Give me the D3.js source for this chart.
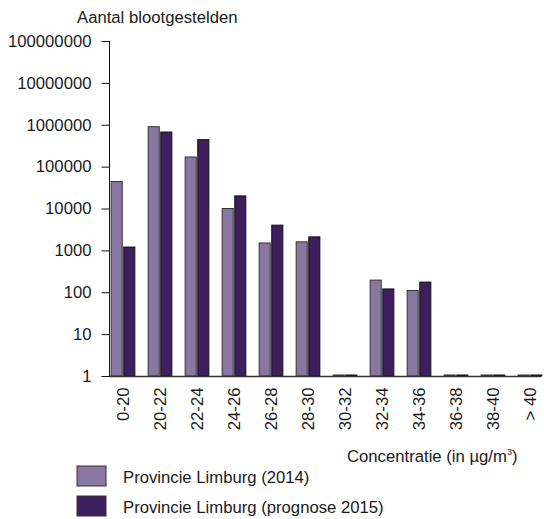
<!DOCTYPE html>
<html>
<head>
<meta charset="utf-8">
<script src="https://cdn.jsdelivr.net/npm/d3@7"></script>
<style>
  body { margin: 0; background: #fff; }
  text { font-family: "Liberation Sans", Arial, sans-serif; fill: #1a1a1a; }
</style>
</head>
<body>
<svg id="chart" width="544" height="519"></svg>
<script>
// Concentration classes (µg/m³)
const categories = ["0-20", "20-22", "22-24", "24-26", "26-28", "28-30", "30-32", "32-34", "34-36", "36-38", "38-40", "> 40"];
// Number of exposed inhabitants per class
const limburg2014 = [44000, 900000, 170000, 10000, 1500, 1600, 0, 195, 110, 0, 0, 0];
const limburg2015 = [1200, 670000, 440000, 20000, 4000, 2100, 0, 120, 175, 0, 0, 0];
const seriesNames = ["Provincie Limburg (2014)", "Provincie Limburg (prognose 2015)"];
const seriesColors = ["#8a77a1", "#3e1f5e"];
const yTicks = [1, 10, 100, 1000, 10000, 100000, 1000000, 10000000, 100000000];

const FONT = 16.7;
const svg = d3.select("#chart");

const y = d3.scaleLog().domain([1, 100000000]).range([376, 41]);
const x = d3.scaleBand().domain(categories).range([104.5, 548.5])
  .paddingInner(0.36).paddingOuter(0.18);
const xs = d3.scaleBand().domain([0, 1]).range([0, x.bandwidth()]).paddingInner(0.12);

const series = [limburg2014, limburg2015];

// Bars (empty classes show as a flat dash on the baseline)
series.forEach((vals, si) => {
  svg.append("g").selectAll("rect")
    .data(categories.map((c, i) => ({ c, v: vals[i] })))
    .join("rect")
    .attr("x", d => x(d.c) + xs(si))
    .attr("width", xs.bandwidth())
    .attr("y", d => Math.min(y(Math.max(d.v, 1)), y(1) - 1))
    .attr("height", d => Math.max(y(1) - y(Math.max(d.v, 1)), 1))
    .attr("fill", seriesColors[si])
    .attr("stroke", si === 0 ? "#333" : "#111")
    .attr("stroke-width", 1);
});

// Y axis
const yAxis = svg.append("g").attr("transform", "translate(109.5,0)")
  .call(d3.axisLeft(y).tickValues(yTicks).tickFormat(d3.format("d")).tickSize(8).tickPadding(10));
yAxis.select(".domain").attr("stroke", "#111").attr("d", "M0,41V376");
yAxis.selectAll(".tick line").attr("stroke", "#111");
yAxis.selectAll(".tick text").attr("font-size", FONT).attr("fill", "#1a1a1a")
  .style("font-family", "'Liberation Sans', Arial, sans-serif");

// X axis (baseline only, rotated labels)
const xAxis = svg.append("g").attr("transform", "translate(0,376.5)")
  .call(d3.axisBottom(x).tickSize(0).tickPadding(0));
xAxis.select(".domain").attr("stroke", "#333").attr("stroke-width", 1.5).attr("d", "M109,0H541");
xAxis.selectAll(".tick text")
  .attr("font-size", FONT)
  .attr("fill", "#1a1a1a")
  .style("font-family", "'Liberation Sans', Arial, sans-serif")
  .attr("text-anchor", "end")
  .attr("dy", null)
  .attr("transform", "translate(6,11) rotate(-90)")
  .attr("y", 0)
  .attr("x", 0);

// Axis titles
svg.append("text").attr("x", 77).attr("y", 23).attr("font-size", FONT).text("Aantal blootgestelden");
const xt = svg.append("text").attr("x", 347).attr("y", 462).attr("font-size", FONT);
xt.append("tspan").text("Concentratie (in µg/m");
xt.append("tspan").attr("font-size", 9).attr("dy", -7).text("3");
xt.append("tspan").attr("dy", 7).text(")");

// Legend
const legend = svg.append("g");
seriesNames.forEach((name, i) => {
  const ly = 466 + i * 30;
  legend.append("rect").attr("x", 77).attr("y", ly).attr("width", 29).attr("height", 20)
    .attr("fill", seriesColors[i]).attr("stroke", "#333").attr("stroke-width", 1);
  legend.append("text").attr("x", 123).attr("y", ly + 17).attr("font-size", FONT).text(name);
});
</script>
</body>
</html>
